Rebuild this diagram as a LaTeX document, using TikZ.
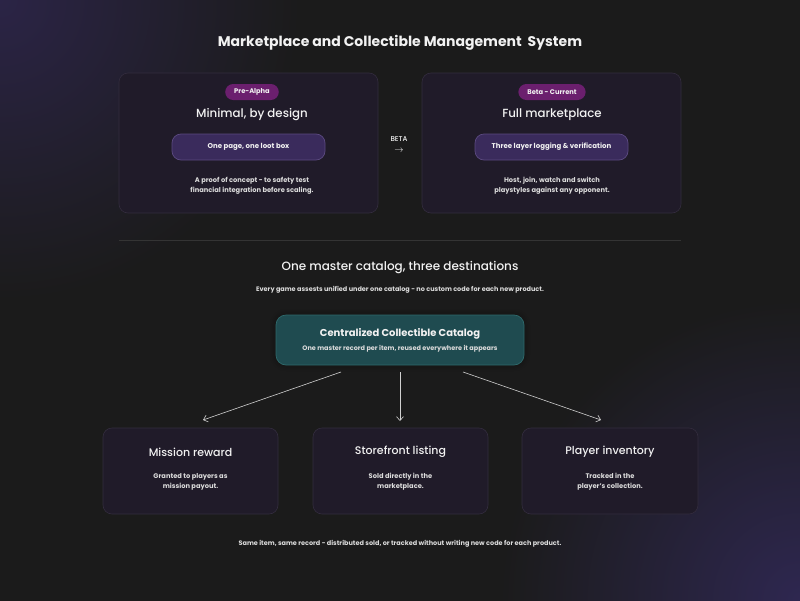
\documentclass[tikz,border=0pt]{standalone}
\usepackage{fontspec}
\setmainfont{Poppins}
\newfontfamily\pmed{Poppins Medium}
\usetikzlibrary{arrows.meta,shadows.blur}
\definecolor{bg}{HTML}{1B1B1B}
\definecolor{glow}{HTML}{2B2446}
\definecolor{glowb}{HTML}{2E2750}
\definecolor{cardfill}{HTML}{201B29}
\definecolor{cardline}{HTML}{332C3E}
\definecolor{pillfill}{HTML}{3A2B5C}
\definecolor{pillline}{HTML}{5B4A80}
\definecolor{tagfill}{HTML}{6B1F6E}
\definecolor{tealfill}{HTML}{1F4B50}
\definecolor{tealline}{HTML}{2F6A6C}
\definecolor{txt}{HTML}{F2F2F2}
\definecolor{subtxt}{HTML}{DCDCDC}
\definecolor{divider}{HTML}{343434}
\definecolor{arrowc}{HTML}{D0D0D0}
\tikzset{
  card/.style={draw=cardline, fill=cardfill, rounded corners=9pt, line width=0.6pt},
  tag/.style={fill=tagfill, rounded corners=8pt, minimum height=16pt, text=txt, font=\fontsize{6.7}{7}\selectfont\bfseries, inner xsep=9pt},
  pillbox/.style={draw=pillline, fill=pillfill, rounded corners=9pt, line width=0.7pt, minimum width=153pt, minimum height=26pt, text=txt, font=\fontsize{7}{8}\selectfont\bfseries},
  cardtitle/.style={text=txt, font=\fontsize{11.8}{13}\pmed},
  desc/.style={text=subtxt, font=\fontsize{6.7}{10}\selectfont\bfseries, align=center},
  smalltxt/.style={text=subtxt, font=\fontsize{6.5}{7}\selectfont\bfseries},
  conn/.style={draw=arrowc, line width=0.6pt, -{Straight Barb[length=4pt,width=7pt]}},
}
\begin{document}
\begin{tikzpicture}[x=1pt,y=-1pt]
\useasboundingbox (0,0) rectangle (800,600);
\fill[bg] (-10,-10) rectangle (810,610);
\begin{scope}
\clip (0,0) rectangle (800,600);
\shade[inner color=glow, outer color=bg] (-300,-300) rectangle (300,300);
\shade[inner color=glowb, outer color=bg] (500,300) rectangle (1100,900);
\end{scope}

\node[text=txt, font=\fontsize{14}{16}\selectfont\bfseries] (title) at (400,43) {Marketplace and Collectible Management\ \ System};

% top cards
\draw[card] (119,73) rectangle (378,213);
\draw[card] (422,73) rectangle (681,213);
\node[tag] (t1) at (252,92) {Pre-Alpha};
\node[tag] (t2) at (552,92) {Beta - Current};
\node[cardtitle] (c1) at (252,115) {Minimal, by design};
\node[cardtitle] (c2) at (552,115) {Full marketplace};
\node[pillbox] (p1) at (248.5,147) {One page, one loot box};
\node[pillbox] (p2) at (551.5,147) {Three layer logging \& verification};
\node[desc] (d1) at (252,186) {A proof of concept - to safety test\\financial integration before scaling.};
\node[desc] (d2) at (552,186) {Host, join, watch and switch\\playstyles against any opponent.};

\node[text=txt, font=\fontsize{7}{8}\pmed] (beta) at (399,139) {BETA};
\node[text=txt, font=\fontsize{9}{10}\selectfont] (barrow) at (399,151) {$\rightarrow$};

\draw[divider, line width=0.7pt] (119,240) -- (681,240);

\node[text=txt, font=\fontsize{12}{13}\pmed] (h2) at (400,268) {One master catalog, three destinations};
\node[smalltxt] (s2) at (400,290) {Every game assests unified under one catalog - no custom code for each new product.};

\node[draw=tealline, fill=tealfill, rounded corners=10pt, line width=0.7pt, minimum width=248pt, minimum height=50pt, blur shadow={shadow blur steps=8, shadow xshift=0pt, shadow yshift=0pt, shadow blur radius=6pt, shadow opacity=40}] (cat) at (400,340) {};
\node[text=txt, font=\fontsize{10}{11}\selectfont\bfseries] (catt) at (400,334) {Centralized Collectible Catalog};
\node[smalltxt] (cats) at (400,349) {One master record per item, reused everywhere it appears};

% bottom cards
\node[card, minimum width=175pt, minimum height=86pt] (b1) at (190.5,471) {};
\node[card, minimum width=175pt, minimum height=86pt] (b2) at (400.5,471) {};
\node[card, minimum width=176pt, minimum height=86pt] (b3) at (610,471) {};
\node[cardtitle, font=\fontsize{11}{12}\pmed] (b1t) at (190.5,452) {Mission reward};
\node[cardtitle, font=\fontsize{11}{12}\pmed] (b2t) at (400.5,452) {Storefront listing};
\node[cardtitle, font=\fontsize{11}{12}\pmed] (b3t) at (610,452) {Player inventory};
\node[desc] (b1d) at (190.5,481.5) {Granted to players as\\mission payout.};
\node[desc] (b2d) at (400.5,481.5) {Sold directly in the\\marketplace.};
\node[desc] (b3d) at (610,481.5) {Tracked in the\\player's collection.};

\coordinate (a1s) at (341,372);
\coordinate (a2s) at (400,372);
\coordinate (a3s) at (463,372);
\coordinate (a1e) at (203,420);
\coordinate (a2e) at (400,421);
\coordinate (a3e) at (601,420);
\draw[conn] (a1s) -- (a1e);
\draw[conn] (a2s) -- (a2e);
\draw[conn] (a3s) -- (a3e);

\node[smalltxt] (foot) at (400,544) {Same item, same record - distributed sold, or tracked without writing new code for each product.};
\end{tikzpicture}
\end{document}
